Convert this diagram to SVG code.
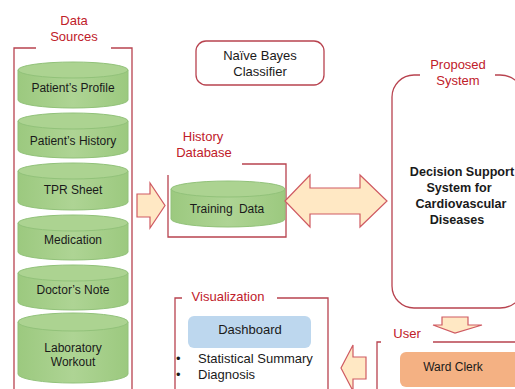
<svg xmlns="http://www.w3.org/2000/svg" width="515" height="389" viewBox="0 0 515 389">
  <style>
    text { font-family: "Liberation Sans", Arial, sans-serif; fill: #1a1a1a; }
    .lbl { font-size: 12px; text-anchor: middle; }
    .cap { font-size: 13px; text-anchor: middle; fill: #c0202a; }
    .frame { fill: none; stroke: #b8434f; stroke-width: 1.3; }
    .cyl { fill: url(#green); stroke: #92c27a; stroke-width: 1; }
    .cyltop { fill: #acd391; stroke: #92c27a; stroke-width: 1; }
    .arrow { fill: #ffe8c4; stroke: #cf5a62; stroke-width: 1.2; stroke-linejoin: miter; }
  </style>
  <defs>
    <linearGradient id="green" x1="0" y1="0" x2="1" y2="0">
      <stop offset="0" stop-color="#9cc97f"/>
      <stop offset="0.5" stop-color="#aed494"/>
      <stop offset="1" stop-color="#9cc97f"/>
    </linearGradient>
  </defs>

  <rect width="515" height="389" fill="#ffffff"/>

  <!-- Data sources column -->
  <g id="data-sources">
    <path class="frame" d="M36,48 H14 V389 M111,48 H132 V389"/>
    <text class="cap" x="74" y="25">Data</text>
    <text class="cap" x="74" y="41">Sources</text>
  </g>

  <g id="patients-profile">
    <path class="cyl" d="M18,70 V100 A55,8 0 0 0 128,100 V70 Z"/>
    <ellipse class="cyltop" cx="73" cy="70" rx="55" ry="8"/>
    <text class="lbl" x="73" y="92">Patient’s Profile</text>
  </g>
  <g id="patients-history">
    <path class="cyl" d="M18,121 V150 A55,8 0 0 0 128,150 V121 Z"/>
    <ellipse class="cyltop" cx="73" cy="121" rx="55" ry="8"/>
    <text class="lbl" x="73" y="145">Patient’s History</text>
  </g>
  <g id="tpr-sheet">
    <path class="cyl" d="M18,171 V202 A55,8 0 0 0 128,202 V171 Z"/>
    <ellipse class="cyltop" cx="73" cy="171" rx="55" ry="8"/>
    <text class="lbl" x="73" y="194">TPR Sheet</text>
  </g>
  <g id="medication">
    <path class="cyl" d="M18,223 V252 A55,8 0 0 0 128,252 V223 Z"/>
    <ellipse class="cyltop" cx="73" cy="223" rx="55" ry="8"/>
    <text class="lbl" x="73" y="244">Medication</text>
  </g>
  <g id="doctors-note">
    <path class="cyl" d="M18,273 V302 A55,8 0 0 0 128,302 V273 Z"/>
    <ellipse class="cyltop" cx="73" cy="273" rx="55" ry="8"/>
    <text class="lbl" x="73" y="294">Doctor’s Note</text>
  </g>
  <g id="laboratory-workout">
    <path class="cyl" d="M18,322 V374 A55,9 0 0 0 128,374 V322 Z"/>
    <ellipse class="cyltop" cx="73" cy="322" rx="55" ry="9"/>
    <text class="lbl" x="73" y="352">Laboratory</text>
    <text class="lbl" x="73" y="366">Workout</text>
  </g>

  <!-- Classifier -->
  <g id="naive-bayes">
    <rect x="196" y="41" width="128" height="44" rx="10" fill="#ffffff" stroke="#b8434f" stroke-width="1.3"/>
    <text x="260" y="60" font-size="13" text-anchor="middle">Naïve Bayes</text>
    <text x="260" y="76" font-size="13" text-anchor="middle">Classifier</text>
  </g>

  <!-- History database -->
  <g id="history-database">
    <path class="frame" d="M242,164 H286 V237 H168 V175"/>
    <text class="cap" x="203" y="141">History</text>
    <text class="cap" x="204" y="157">Database</text>
    <path class="cyl" d="M171,189 V219 A57,8 0 0 0 285,219 V189 Z"/>
    <ellipse class="cyltop" cx="228" cy="189" rx="57" ry="8"/>
    <text class="lbl" x="227" y="213" word-spacing="3">Training Data</text>
  </g>

  <!-- Proposed system -->
  <g id="proposed-system">
    <path class="frame" d="M420,75 H414 A22,22 0 0 0 392,97 V286 A22,22 0 0 0 414,308 H500 A25,25 0 0 0 525,283 V100 A25,25 0 0 0 500,75 H495"/>
    <text class="cap" x="458" y="69">Proposed</text>
    <text class="cap" x="458" y="85">System</text>
    <g font-size="12.6" font-weight="bold" text-anchor="middle">
      <text x="462" y="176">Decision Support</text>
      <text x="459" y="192">System for</text>
      <text x="461" y="208">Cardiovascular</text>
      <text x="457" y="224">Diseases</text>
    </g>
  </g>

  <!-- User -->
  <g id="user">
    <path class="frame" d="M381,342 H377 V389 M433,342 H515"/>
    <text class="cap" x="407" y="338">User</text>
    <rect x="400" y="352" width="125" height="35" rx="6" fill="#f4b183"/>
    <text class="lbl" x="453" y="371">Ward Clerk</text>
  </g>

  <!-- Visualization -->
  <g id="visualization">
    <path class="frame" d="M182,298 H175 V389 M277,298 H328 V389"/>
    <text class="cap" x="228" y="301">Visualization</text>
    <rect x="188" y="316" width="123" height="32" rx="6" fill="#bdd7ee"/>
    <text x="250" y="334" font-size="13" text-anchor="middle">Dashboard</text>
    <text x="176" y="363" font-size="13">•</text>
    <text x="198" y="363" font-size="13">Statistical Summary</text>
    <text x="176" y="379" font-size="13">•</text>
    <text x="198" y="379" font-size="13">Diagnosis</text>
  </g>

  <!-- Connectors -->
  <g id="connectors">
    <path class="arrow" d="M137,194 H150 V183 L165,205.5 L150,228 V217 H137 Z"/>
    <path class="arrow" d="M285,201 L310,175 V188 H360 V175 L387,201 L360,227 V214 H310 V227 Z"/>
    <path class="arrow" d="M442,317 H468 V325 H482 L455,333 L433,325 H442 Z"/>
    <path class="arrow" d="M366,357 H353 V345 L341,368 L353,391 V379 H366 Z"/>
  </g>
</svg>
